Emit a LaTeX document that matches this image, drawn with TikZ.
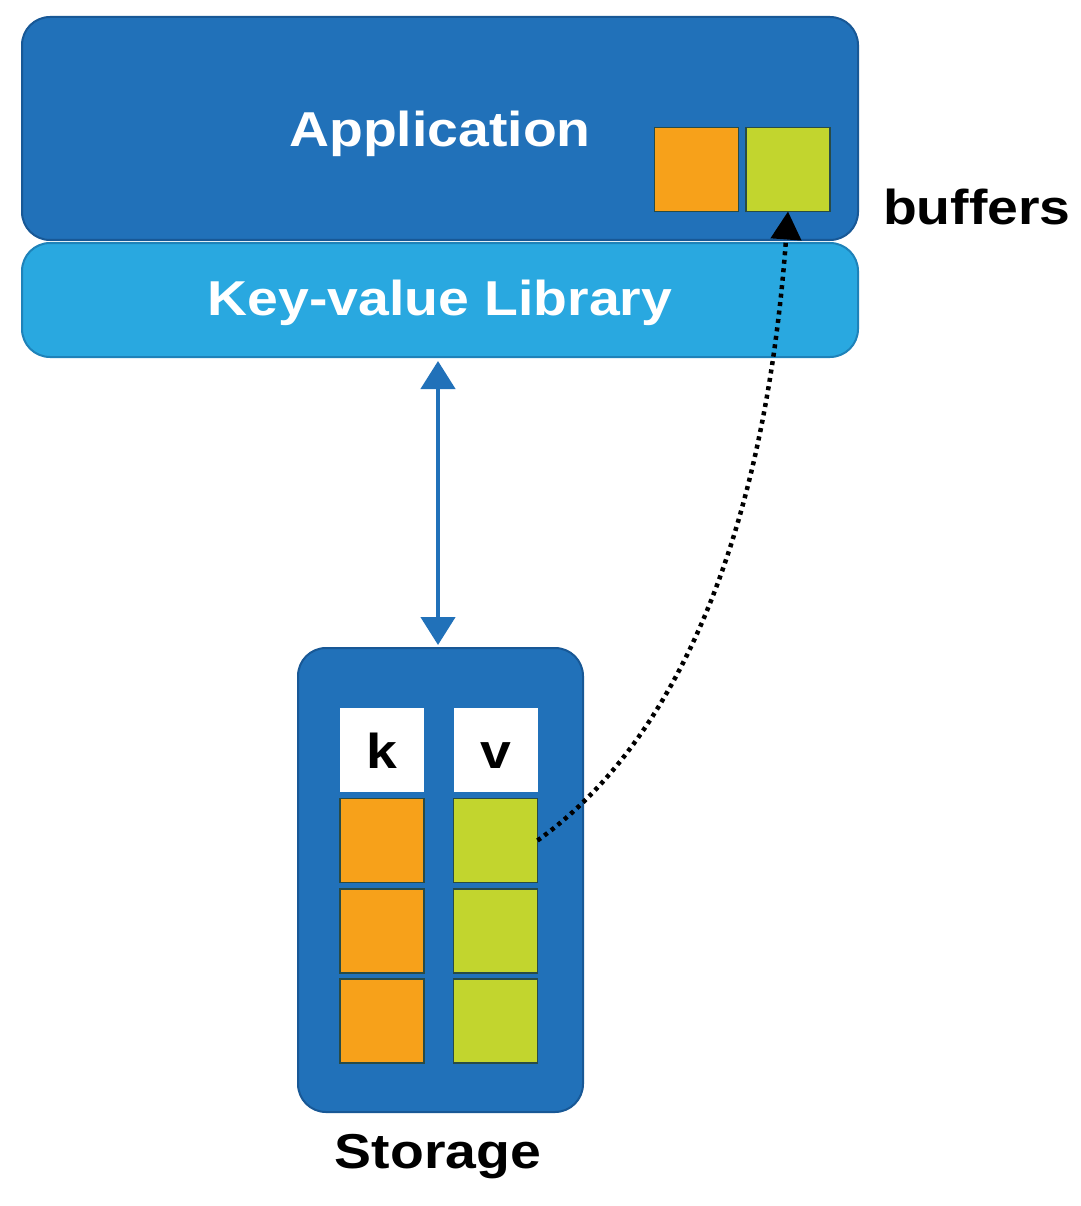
\documentclass[tikz,border=0pt]{standalone}
\usepackage{fontspec}
\usetikzlibrary{arrows.meta}
\newfontfamily\lblfont[FakeStretch=1.13]{Liberation Sans}
\definecolor{appblue}{RGB}{33,113,185}
\definecolor{appdark}{RGB}{24,88,150}
\definecolor{libblue}{RGB}{41,168,224}
\definecolor{libdark}{RGB}{30,130,185}
\definecolor{keyorange}{RGB}{247,161,26}
\definecolor{valgreen}{RGB}{194,213,46}
\definecolor{celledge}{RGB}{40,75,70}
\tikzset{
  lbl/.style={font=\lblfont\bfseries\fontsize{49}{58}\selectfont, inner sep=0pt, outer sep=0pt},
  layerbox/.style={rectangle, rounded corners=28pt, inner sep=0pt, outer sep=0pt, line width=2pt},
  cellbox/.style={rectangle, inner sep=0pt, outer sep=0pt, minimum width=84pt, minimum height=84pt, line width=1.2pt},
  kcell/.style={cellbox, fill=keyorange, draw=celledge},
  vcell/.style={cellbox, fill=valgreen, draw=celledge},
  hcell/.style={cellbox, fill=white, text=black, text height=36pt, text depth=0pt, lbl},
  bluearrow/.style={draw=appblue, line width=4.5pt, {Triangle[width=34pt,length=28pt]}-{Triangle[width=34pt,length=28pt]}},
  dotarrow/.style={draw=black, line width=4.5pt, dash pattern=on 4pt off 4.5pt, -{Triangle[width=30pt,length=28pt]}}
}
\begin{document}
\begin{tikzpicture}[x=1pt,y=-1pt]
\useasboundingbox (0,0) rectangle (1080,1206);
\fill[white] (0,0) rectangle (1080,1206);

% Application layer
\node[layerbox, fill=appblue, draw=appdark, minimum width=836pt, minimum height=223pt,
      lbl, text=white, text height=37pt, text depth=0pt] (app) at (440,128.5) {Application};
% Key-value library layer
\node[layerbox, fill=libblue, draw=libdark, minimum width=836pt, minimum height=114pt,
      lbl, text=white, text height=30pt, text depth=0pt] (lib) at (440,300) {Key-value Library};

% buffers
\node[kcell] (bufk) at (696.5,169.5) {};
\node[vcell] (bufv) at (788,169.5) {};
\node[lbl, text=black, anchor=base west] (buflbl) at (883,225) {buffers};

% Storage
\node[layerbox, fill=appblue, draw=appdark, minimum width=285pt, minimum height=464pt] (stor) at (440.5,880) {};
\node[hcell] (khead) at (382,750) {k};
\node[hcell] (vhead) at (495.5,750) {v};
\node[kcell] (k1) at (382,840.5) {};
\node[kcell] (k2) at (382,931) {};
\node[kcell] (k3) at (382,1021) {};
\node[vcell] (v1) at (495.5,840.5) {};
\node[vcell] (v2) at (495.5,931) {};
\node[vcell] (v3) at (495.5,1021) {};
\node[lbl, text=black, anchor=base] (storlbl) at (438,1168) {Storage};

% connectors
\draw[bluearrow, shorten <=4pt, shorten >=3pt] (lib.south -| 438,0) -- (stor.north -| 438,0);
\draw[dotarrow] (v1.east) .. controls (679,739) and (765,530) .. (bufv.south);
\end{tikzpicture}
\end{document}
